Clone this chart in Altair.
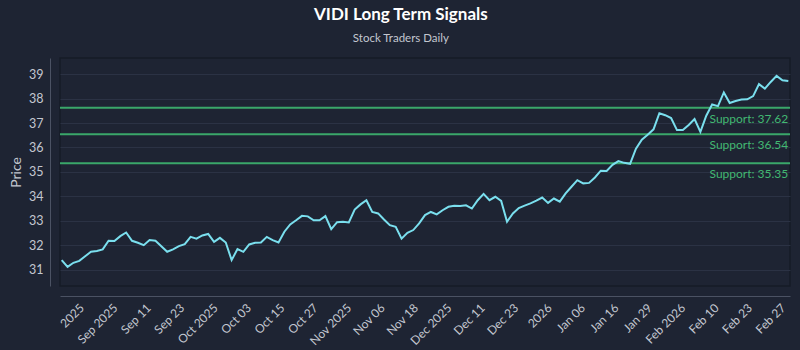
import altair as alt
import pandas as pd

prices = [
    31.39, 31.11, 31.28, 31.36, 31.55, 31.73, 31.76, 31.83, 32.18, 32.17,
    32.37, 32.52, 32.18, 32.10, 32.00, 32.21, 32.18, 31.96, 31.73, 31.83,
    31.96, 32.04, 32.34, 32.27, 32.40, 32.46, 32.14, 32.30, 32.11, 31.39,
    31.84, 31.73, 32.03, 32.10, 32.11, 32.34, 32.21, 32.11, 32.55, 32.85,
    33.02, 33.20, 33.18, 33.02, 33.02, 33.19, 32.66, 32.94, 32.96, 32.93,
    33.46, 33.67, 33.84, 33.36, 33.30, 33.05, 32.82, 32.75, 32.27, 32.51,
    32.62, 32.89, 33.23, 33.36, 33.26, 33.43, 33.57, 33.61, 33.60, 33.63,
    33.50, 33.84, 34.10, 33.84, 33.98, 33.81, 32.96, 33.30, 33.52, 33.62,
    33.71, 33.82, 33.95, 33.73, 33.91, 33.78, 34.12, 34.39, 34.66, 34.53,
    34.55, 34.77, 35.05, 35.04, 35.29, 35.44, 35.37, 35.33, 35.95, 36.32,
    36.52, 36.74, 37.40, 37.32, 37.20, 36.71, 36.71, 36.92, 37.16, 36.64,
    37.30, 37.76, 37.69, 38.25, 37.82, 37.90, 37.96, 37.97, 38.10, 38.59,
    38.41, 38.68, 38.93, 38.75, 38.72,
]

tick_labels = [
    "2025", "Sep 2025", "Sep 11", "Sep 23", "Oct 2025", "Oct 03", "Oct 15",
    "Oct 27", "Nov 2025", "Nov 06", "Nov 18", "Dec 2025", "Dec 11", "Dec 23",
    "2026", "Jan 06", "Jan 16", "Jan 29", "Feb 2026", "Feb 10", "Feb 23", "Feb 27",
]
tick_positions = [
    2.8, 8.5, 14.2, 19.9, 25.6, 31.3, 37.0, 42.7, 48.4, 54.1, 59.8,
    65.5, 71.2, 76.9, 82.6, 88.3, 94.0, 99.7, 105.4, 111.1, 116.8, 122.5,
]

y_ticks = [31, 32, 33, 34, 35, 36, 37, 38, 39]
support_levels = [37.62, 36.54, 35.35]

BG = "#1e2433"
FONT = "Lato"

df = pd.DataFrame({"idx": list(range(len(prices))), "price": prices})
sup = pd.DataFrame({
    "level": support_levels,
    "label": [f"Support: {v:.2f}" for v in support_levels],
    "xpos": [len(prices) - 1] * len(support_levels),
})

label_expr = (
    "[" + ",".join(f"'{t}'" for t in tick_labels) + "]"
    + "[indexof([" + ",".join(str(p) for p in tick_positions) + "], datum.value)]"
)

x_scale = alt.Scale(domain=[-0.29, len(prices) - 1 + 0.29], nice=False, zero=False)
y_scale = alt.Scale(domain=[30.33, 39.66], nice=False, zero=False)

x_axis = alt.Axis(
    title=None, values=tick_positions, labelExpr=label_expr, labelAngle=-45,
    labelFontSize=12, labelColor="#c3c7d0", labelFont=FONT, ticks=False,
    grid=False, domainColor="#4b5263", offset=10, labelPadding=6,
    labelOverlap=False, labelBound=False, labelFlush=False,
)
y_axis = alt.Axis(
    title="Price", values=y_ticks, labelFontSize=12.5,
    labelColor="#c3c7d0", labelFont=FONT, ticks=False, grid=True,
    gridColor="#2b3244", gridWidth=1, domainColor="#4b5263", offset=10,
    labelPadding=7, labelOverlap=False, titleFont=FONT, titleFontSize=14,
    titleFontWeight="normal", titleColor="#c3c7d0", titlePadding=5,
)

line = alt.Chart(df).mark_line(color="#7adfee", strokeWidth=2).encode(
    x=alt.X("idx:Q", scale=x_scale, axis=x_axis),
    y=alt.Y("price:Q", scale=y_scale, axis=y_axis),
)

rules = alt.Chart(sup).mark_rule(color="#3aa76a", strokeWidth=2).encode(
    y=alt.Y("level:Q", scale=y_scale, axis=y_axis),
)

texts = alt.Chart(sup).mark_text(
    align="right", baseline="middle", dy=11, dx=0, fontSize=12,
    font=FONT, color="#42b872",
).encode(
    x=alt.X("xpos:Q", scale=x_scale, axis=x_axis),
    y=alt.Y("level:Q", scale=y_scale, axis=y_axis),
    text="label:N",
)

chart = alt.layer(rules, line, texts).properties(
    width=730, height=228,
    autosize=alt.AutoSizeParams(type="none"),
    padding={"left": 60, "top": 58, "right": 10, "bottom": 64},
    background=BG,
    title=alt.TitleParams(
        text="VIDI Long Term Signals", subtitle="Stock Traders Daily",
        anchor="middle", frame="bounds", font=FONT, fontSize=17,
        fontWeight="bold", color="#ffffff", subtitleFont=FONT,
        subtitleFontSize=11.5, subtitleColor="#c3c7d0", subtitlePadding=9,
        offset=13,
    ),
).configure_view(stroke="#161b27", strokeWidth=1.5)

chart.save("out.html", embed_options={"renderer": "svg", "actions": False})
